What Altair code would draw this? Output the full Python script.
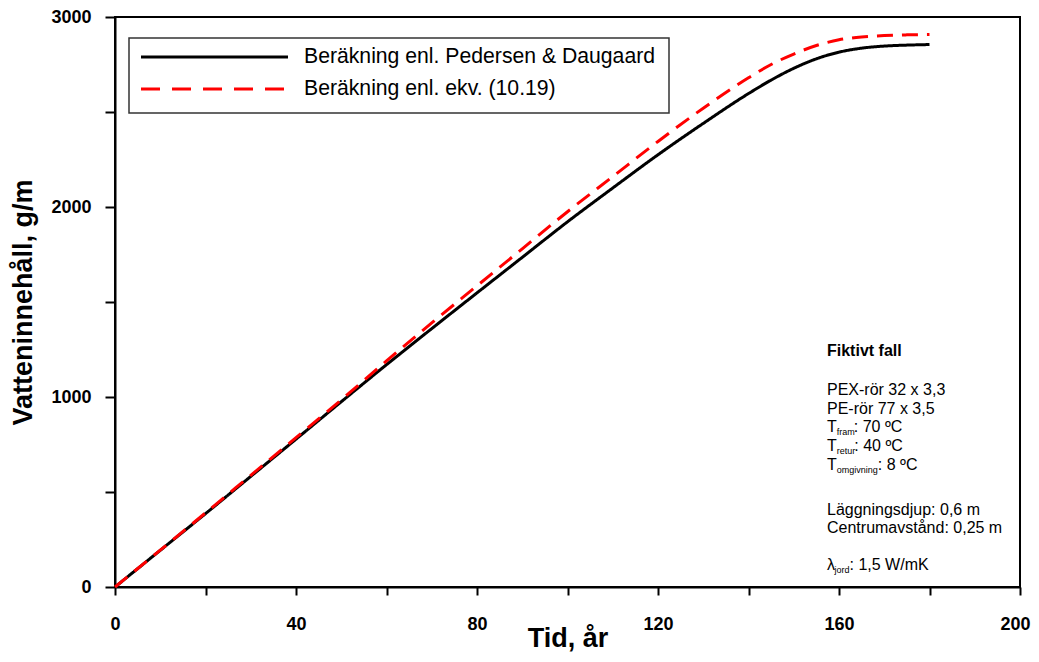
import altair as alt
import pandas as pd

# ---- data ----
years = [0, 10, 20, 30, 40, 50, 60, 70, 80, 90, 100, 110, 120, 130, 140, 145, 150, 155, 160, 165, 170, 175, 180]
pedersen = [0, 193, 386, 582, 778, 975, 1170, 1360, 1548, 1735, 1922, 2100, 2275, 2440, 2597, 2668, 2730, 2780, 2815, 2836, 2847, 2852, 2855]
ekv = [0, 194, 390, 588, 786, 985, 1190, 1390, 1585, 1780, 1975, 2160, 2345, 2520, 2680, 2750, 2805, 2850, 2880, 2895, 2902, 2906, 2908]

series_names = ["Beräkning enl. Pedersen & Daugaard", "Beräkning enl. ekv. (10.19)"]
x_ticks = [0, 20, 40, 60, 80, 100, 120, 140, 160, 180, 200]
y_ticks = [0, 500, 1000, 1500, 2000, 2500, 3000]

x_title = "Tid, år"
y_title = "Vatteninnehåll, g/m"

note_title = "Fiktivt fall"
note_lines = ["PEX-rör 32 x 3,3", "PE-rör 77 x 3,5"]
note_sub = [("T", "fram", ": 70 ºC"), ("T", "retur", ": 40 ºC"), ("T", "omgivning", ": 8 ºC")]
note_lines2 = ["Läggningsdjup: 0,6 m", "Centrumavstånd: 0,25 m"]
note_lambda = ("λ", "jord", ": 1,5 W/mK")

FONT = "Liberation Sans"

rows = []
for y, a, b in zip(years, pedersen, ekv):
    rows.append({"year": y, "value": a, "series": series_names[0]})
    rows.append({"year": y, "value": b, "series": series_names[1]})
df = pd.DataFrame(rows)

W, H = 905, 570

x_enc = alt.X("year:Q", scale=alt.Scale(domain=[0, 200], nice=False),
              axis=alt.Axis(values=x_ticks, title=x_title,
                            labelExpr="datum.value % 40 === 0 ? datum.label : ''",
                            labelOffset={"condition": {"test": "datum.value === 200", "value": -5}, "value": 0},
                            tickSize=8, labelPadding=20,
                            titleBaseline="alphabetic", titleY=59,
                            labelFlush=False, labelOverlap=False, labelBound=False))
y_enc = alt.Y("value:Q", scale=alt.Scale(domain=[0, 3000], nice=False),
              axis=alt.Axis(values=y_ticks, title=y_title, format="d",
                            labelExpr="datum.value % 1000 === 0 ? datum.label : ''",
                            tickSize=10, labelPadding=14, titlePadding=13,
                            labelFlush=False, labelOverlap=False, labelBound=False))

lines = alt.Chart(df).mark_line(strokeWidth=3, interpolate="monotone").encode(
    x=x_enc, y=y_enc,
    color=alt.Color("series:N", scale=alt.Scale(domain=series_names, range=["#000000", "#ff0000"]), legend=None),
    strokeDash=alt.StrokeDash("series:N", scale=alt.Scale(domain=series_names, range=[[1, 0], [16, 9]]), legend=None),
    order=alt.Order("year:Q"),
)

one = pd.DataFrame({"k": [0]})

def txt(s, x, y, size, weight="normal", baseline="alphabetic"):
    return alt.Chart(pd.DataFrame({"t": [s]})).mark_text(
        font=FONT, fontSize=size, fontWeight=weight, align="left", baseline=baseline, color="black"
    ).encode(x=alt.value(x), y=alt.value(y), text="t:N")

layers = [lines]

# legend box
layers.append(alt.Chart(one).mark_rect(fill="white", stroke="#333333", strokeWidth=1.5).encode(
    x=alt.value(14), x2=alt.value(554), y=alt.value(21), y2=alt.value(96)))
layers.append(alt.Chart(one).mark_rule(color="black", strokeWidth=3).encode(
    x=alt.value(26), x2=alt.value(173), y=alt.value(40)))
layers.append(alt.Chart(one).mark_rule(color="red", strokeWidth=3, strokeDash=[19, 12]).encode(
    x=alt.value(26), x2=alt.value(170), y=alt.value(72)))
layers.append(txt(series_names[0], 189, 40, 21.2, baseline="middle"))
layers.append(txt(series_names[1], 189, 72, 21.2, baseline="middle"))

# annotation block
X0 = 712
layers.append(txt(note_title, X0, 339, 16, weight="bold"))
layers.append(txt(note_lines[0], X0, 378, 16))
layers.append(txt(note_lines[1], X0, 396.5, 16))
sub_w = {"fram": 17.0, "retur": 17.5, "omgivning": 41.0}
for (main, sub, rest), yb in zip(note_sub, [415, 434, 452.5]):
    layers.append(txt(main, X0, yb, 16))
    layers.append(txt(sub, X0 + 9.8, yb + 3, 9))
    layers.append(txt(rest, X0 + 9.8 + sub_w[sub], yb, 16))
layers.append(txt(note_lines2[0], X0, 498, 16))
layers.append(txt(note_lines2[1], X0, 516, 16))
layers.append(txt(note_lambda[0], X0, 553, 16))
layers.append(txt(note_lambda[1], X0 + 7.5, 556, 9))
layers.append(txt(note_lambda[2], X0 + 7.5 + 15.0, 553, 16))

chart = alt.layer(*layers).properties(
    width=W, height=H,
    background="white",
    autosize=alt.AutoSizeParams(type="none"),
    padding={"left": 107, "top": 9, "right": 11, "bottom": 67},
).configure_view(
    stroke="black", strokeWidth=2
).configure_axis(
    domainColor="black", domainWidth=2, tickColor="black", tickWidth=2,
    labelFont=FONT, labelFontSize=18, labelFontWeight="bold", labelColor="black",
    titleFont=FONT, titleFontSize=27, titleFontWeight="bold", titleColor="black",
    grid=False,
)

chart.save("out.html", embed_options={"renderer": "svg", "actions": False})
